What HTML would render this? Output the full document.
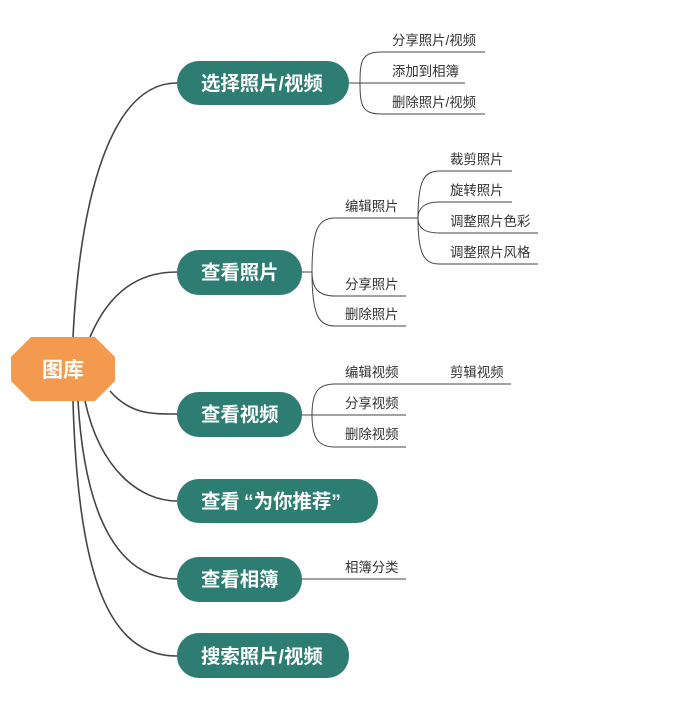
<!DOCTYPE html>
<html><head><meta charset="utf-8"><style>
html,body{margin:0;padding:0;background:#fff;}
svg{display:block;}
.s{font-family:"Liberation Sans","Noto Sans CJK SC",sans-serif;font-size:13.4px;fill:#333;}
.m{font-family:"Liberation Sans","Noto Sans CJK SC",sans-serif;font-size:19.4px;font-weight:bold;fill:#fff;}
</style></head><body>
<svg width="691" height="719" viewBox="0 0 691 719" xmlns="http://www.w3.org/2000/svg">
<g fill="none" stroke="#444" stroke-width="1.6">
<path d="M73 337 C80 200 110 83 177 83"/>
<path d="M90 337 C110 290 140 272 177 272"/>
<path d="M110 391 C130 414 150 414 177 414"/>
<path d="M85 401 C100 470 140 501 177 501"/>
<path d="M78 401 C85 520 120 579 177 579"/>
<path d="M73 401 C78 580 110 656 177 656"/>
</g>
<g fill="none" stroke="#444" stroke-width="1">
<path d="M349 83 H360"/>
<path d="M360 83 C360 60 362 52 382 52 H485"/>
<path d="M360 83 H465"/>
<path d="M360 83 C360 106 362 114 382 114 H485"/>
<path d="M302 272 H312"/>
<path d="M312 272 C312 230 318 218 335 218 H418"/>
<path d="M312 272 C312 288 318 296 335 296 H406"/>
<path d="M312 272 C312 314 318 326 335 326 H406"/>
<path d="M418 218 C418 180 424 171 440 171 H512"/>
<path d="M418 218 C418 208 424 202 440 202 H512"/>
<path d="M418 218 C418 228 424 233 440 233 H538"/>
<path d="M418 218 C418 255 424 264 440 264 H538"/>
<path d="M302 415 H312"/>
<path d="M312 415 C312 392 318 384 335 384 H511"/>
<path d="M312 415 H406"/>
<path d="M312 415 C312 438 318 447 335 447 H406"/>
<path d="M302 579 H406"/>
</g>
<polygon points="31,337 95,337 115,357 115,381 95,401 31,401 11,381 11,357" fill="#f39a4f"/>
<text x="63" y="377" text-anchor="middle" class="m" style="font-size:21px">图库</text>
<g fill="#2e7d72">
<rect x="177" y="61" width="172" height="44" rx="22"/>
<rect x="177" y="250" width="125" height="45" rx="22"/>
<rect x="177" y="392" width="125" height="45" rx="22"/>
<rect x="177" y="479" width="201" height="44" rx="22"/>
<rect x="177" y="557" width="125" height="45" rx="22"/>
<rect x="177" y="633" width="172" height="45" rx="22"/>
</g>
<text x="201" y="90" class="m">选择照片/视频</text>
<text x="201" y="279" class="m">查看照片</text>
<text x="201" y="421" class="m">查看视频</text>
<text x="201" y="508" class="m">查看<tspan x="244">“为你推荐”</tspan></text>
<text x="201" y="586" class="m">查看相簿</text>
<text x="201" y="663" class="m">搜索照片/视频</text>
<g class="s">
<text x="392" y="45">分享照片/视频</text>
<text x="392" y="76">添加到相簿</text>
<text x="392" y="107">删除照片/视频</text>
<text x="345" y="211">编辑照片</text>
<text x="345" y="289">分享照片</text>
<text x="345" y="319">删除照片</text>
<text x="450" y="164">裁剪照片</text>
<text x="450" y="195">旋转照片</text>
<text x="450" y="226">调整照片色彩</text>
<text x="450" y="257">调整照片风格</text>
<text x="345" y="377">编辑视频</text>
<text x="450" y="377">剪辑视频</text>
<text x="345" y="408">分享视频</text>
<text x="345" y="439">删除视频</text>
<text x="345" y="572">相簿分类</text>
</g>
</svg>
</body></html>
